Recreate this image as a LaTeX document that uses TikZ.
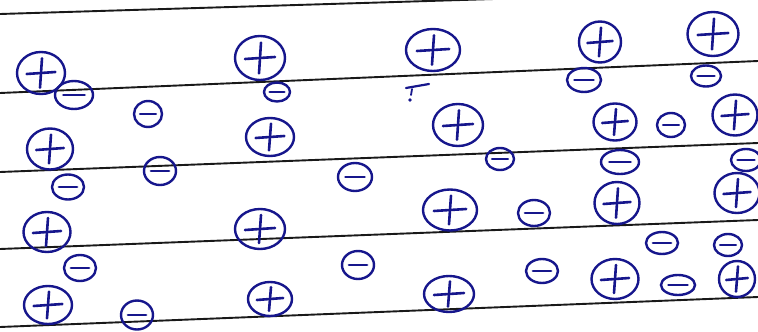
\documentclass[tikz,border=0pt]{standalone}
\usetikzlibrary{shapes.geometric,calc}
\definecolor{ink}{RGB}{22,22,140}
\definecolor{rule}{RGB}{25,25,25}
\tikzset{
  chg/.style={ellipse, draw=ink, line width=2.4pt, inner sep=0pt},
  poschg/.style={chg, path picture={
    \draw[ink,line width=2.6pt,line cap=round]
      ($(path picture bounding box.west)!0.2!(path picture bounding box.east)+(0,1)$) --
      ($(path picture bounding box.west)!0.8!(path picture bounding box.east)+(0,-1)$);
    \draw[ink,line width=2.6pt,line cap=round]
      ($(path picture bounding box.north)!0.15!(path picture bounding box.south)+(1,0)$) --
      ($(path picture bounding box.north)!0.85!(path picture bounding box.south)+(-1,0)$);}},
  negchg/.style={chg, path picture={
    \draw[ink,line width=2.8pt,line cap=round]
      ($(path picture bounding box.west)!0.22!(path picture bounding box.east)$) --
      ($(path picture bounding box.west)!0.78!(path picture bounding box.east)$);}},
  ruled/.style={draw=rule, line width=1.9pt}
}
\newcommand{\chgnode}[6]{\node[#2, minimum width=#5pt, minimum height=#6pt] (#1) at (#3,#4) {};}
\begin{document}
\begin{tikzpicture}[x=1pt,y=-1pt]
\useasboundingbox (0,0) rectangle (758,332);
\fill[white] (0,0) rectangle (758,332);
% ruled lines
\draw[ruled] (0,14) -- (758,-9);
\draw[ruled] (0,93) -- (758,61);
\draw[ruled] (0,172) -- (758,143);
\draw[ruled] (0,249) -- (758,220);
\draw[ruled] (0,327) -- (758,297);
% row 1
\chgnode{p1}{poschg}{41}{73}{48}{42}
\chgnode{n1}{negchg}{74}{95}{38}{28}
\chgnode{n2}{negchg}{148}{114}{28}{26}
\chgnode{p2}{poschg}{260}{58}{50}{44}
\chgnode{n3}{negchg}{277}{92}{26}{19}
\chgnode{p3}{poschg}{433}{50}{54}{42}
\chgnode{p4}{poschg}{600}{42}{42}{41}
\chgnode{n4}{negchg}{584}{80}{34}{24}
\chgnode{p5}{poschg}{713}{34}{51}{44}
\chgnode{n5}{negchg}{706}{76}{30}{21}
% stray mark
\draw[ink,line width=2.2pt,line cap=round] (406,88) -- (429,84);
\draw[ink,line width=1.8pt,line cap=round] (412,89) -- (411,95);
\fill[ink] (410,100) circle (1.8pt);
% row 2
\chgnode{p6}{poschg}{50}{149}{46}{41}
\chgnode{n6}{negchg}{68}{187}{32}{25}
\chgnode{n7}{negchg}{160}{171}{32}{28}
\chgnode{p7}{poschg}{270}{137}{48}{38}
\chgnode{n8}{negchg}{355}{177}{34}{28}
\chgnode{p8}{poschg}{458}{125}{50}{42}
\chgnode{n9}{negchg}{500}{159}{28}{22}
\chgnode{p9}{poschg}{615}{122}{43}{37}
\chgnode{n10}{negchg}{671}{125}{28}{24}
\chgnode{p10}{poschg}{735}{115}{45}{41}
\chgnode{n11}{negchg}{620}{162}{38}{24}
\chgnode{n12}{negchg}{746}{160}{30}{22}
% row 3
\chgnode{p11}{poschg}{47}{232}{47}{40}
\chgnode{p12}{poschg}{260}{229}{50}{40}
\chgnode{p13}{poschg}{450}{210}{54}{41}
\chgnode{n13}{negchg}{534}{213}{32}{26}
\chgnode{p14}{poschg}{617}{203}{45}{42}
\chgnode{p15}{poschg}{737}{193}{45}{40}
% row 4
\chgnode{n14}{negchg}{80}{268}{32}{26}
\chgnode{n15}{negchg}{358}{265}{32}{28}
\chgnode{p16}{poschg}{48}{305}{48}{38}
\chgnode{n16}{negchg}{137}{315}{32}{29}
\chgnode{p17}{poschg}{270}{299}{44}{34}
\chgnode{p18}{poschg}{449}{294}{50}{36}
\chgnode{n17}{negchg}{542}{271}{32}{24}
\chgnode{p19}{poschg}{615}{279}{47}{40}
\chgnode{n18}{negchg}{662}{243}{32}{22}
\chgnode{n19}{negchg}{678}{285}{34}{20}
\chgnode{n20}{negchg}{728}{245}{28}{22}
\chgnode{p20}{poschg}{737}{279}{36}{36}
\end{tikzpicture}
\end{document}
